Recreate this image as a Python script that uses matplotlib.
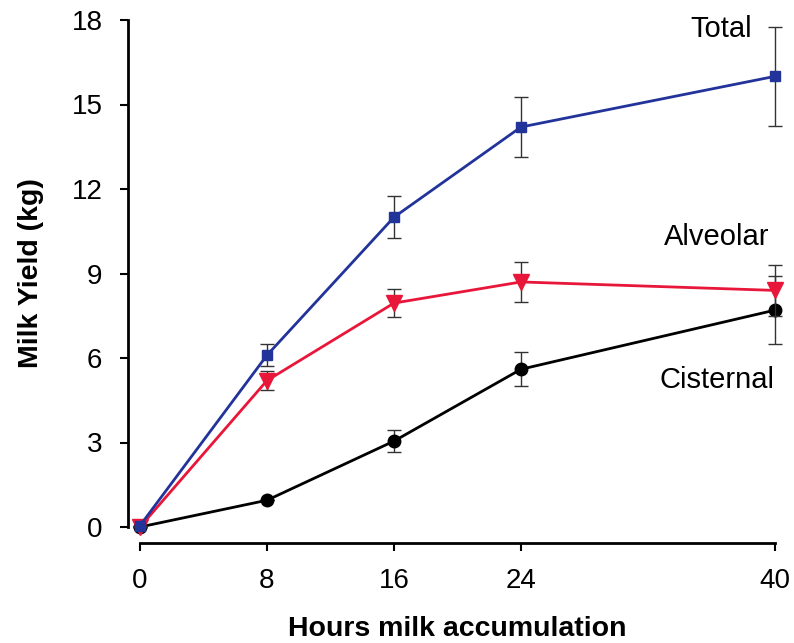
import matplotlib.pyplot as plt

plt.rcParams['font.family'] = ['Liberation Sans', 'DejaVu Sans']

hours = [0, 8, 16, 24, 40]

total = [0.05, 6.1, 11.0, 14.2, 16.0]
total_err = [0.0, 0.4, 0.75, 1.05, 1.75]

alveolar = [0.0, 5.2, 7.95, 8.7, 8.4]
alveolar_err = [0.0, 0.35, 0.5, 0.7, 0.9]

cisternal = [0.0, 0.95, 3.05, 5.6, 7.7]
cisternal_err = [0.0, 0.0, 0.38, 0.6, 1.2]

fig = plt.figure(figsize=(7.94, 6.43), dpi=100)
ax = fig.add_axes([140 / 794, 116 / 643, 635 / 794, 507 / 643])

err_kw = dict(ecolor='#333333', elinewidth=1.0, capsize=5, capthick=1.0)

ax.errorbar(hours, cisternal, yerr=cisternal_err, color='black', lw=2,
            marker='o', ms=9, clip_on=False, zorder=3, **err_kw)
ax.errorbar(hours, alveolar, yerr=alveolar_err, color='#e8173a', lw=2,
            marker='v', ms=11, clip_on=False, zorder=4, **err_kw)
ax.errorbar(hours, total, yerr=total_err, color='#22339a', lw=2,
            marker='s', ms=7, clip_on=False, zorder=5, **err_kw)

ax.set_xlim(0, 40)
ax.set_ylim(0, 18)
ax.set_xticks(hours)
ax.set_yticks(range(0, 19, 3))

for side in ['top', 'right']:
    ax.spines[side].set_visible(False)
ax.spines['left'].set_position(('outward', 9))
ax.spines['bottom'].set_position(('outward', 11.5))
ax.spines['left'].set_linewidth(2)
ax.spines['bottom'].set_linewidth(2)
ax.tick_params(axis='both', direction='out', width=1.5, length=6,
               labelsize=20)
ax.tick_params(axis='y', pad=12)
ax.tick_params(axis='x', pad=12)

ax.set_xlabel('Hours milk accumulation', fontsize=20.5, fontweight='bold',
              labelpad=16)
ax.set_ylabel('Milk Yield (kg)', fontsize=20.5, fontweight='bold',
              labelpad=20)

ax.text(36.6, 17.68, 'Total', fontsize=21, ha='center', va='center')
ax.text(36.3, 10.3, 'Alveolar', fontsize=21, ha='center', va='center')
ax.text(36.35, 5.22, 'Cisternal', fontsize=21, ha='center', va='center')

fig.savefig('out.png', dpi=100)
